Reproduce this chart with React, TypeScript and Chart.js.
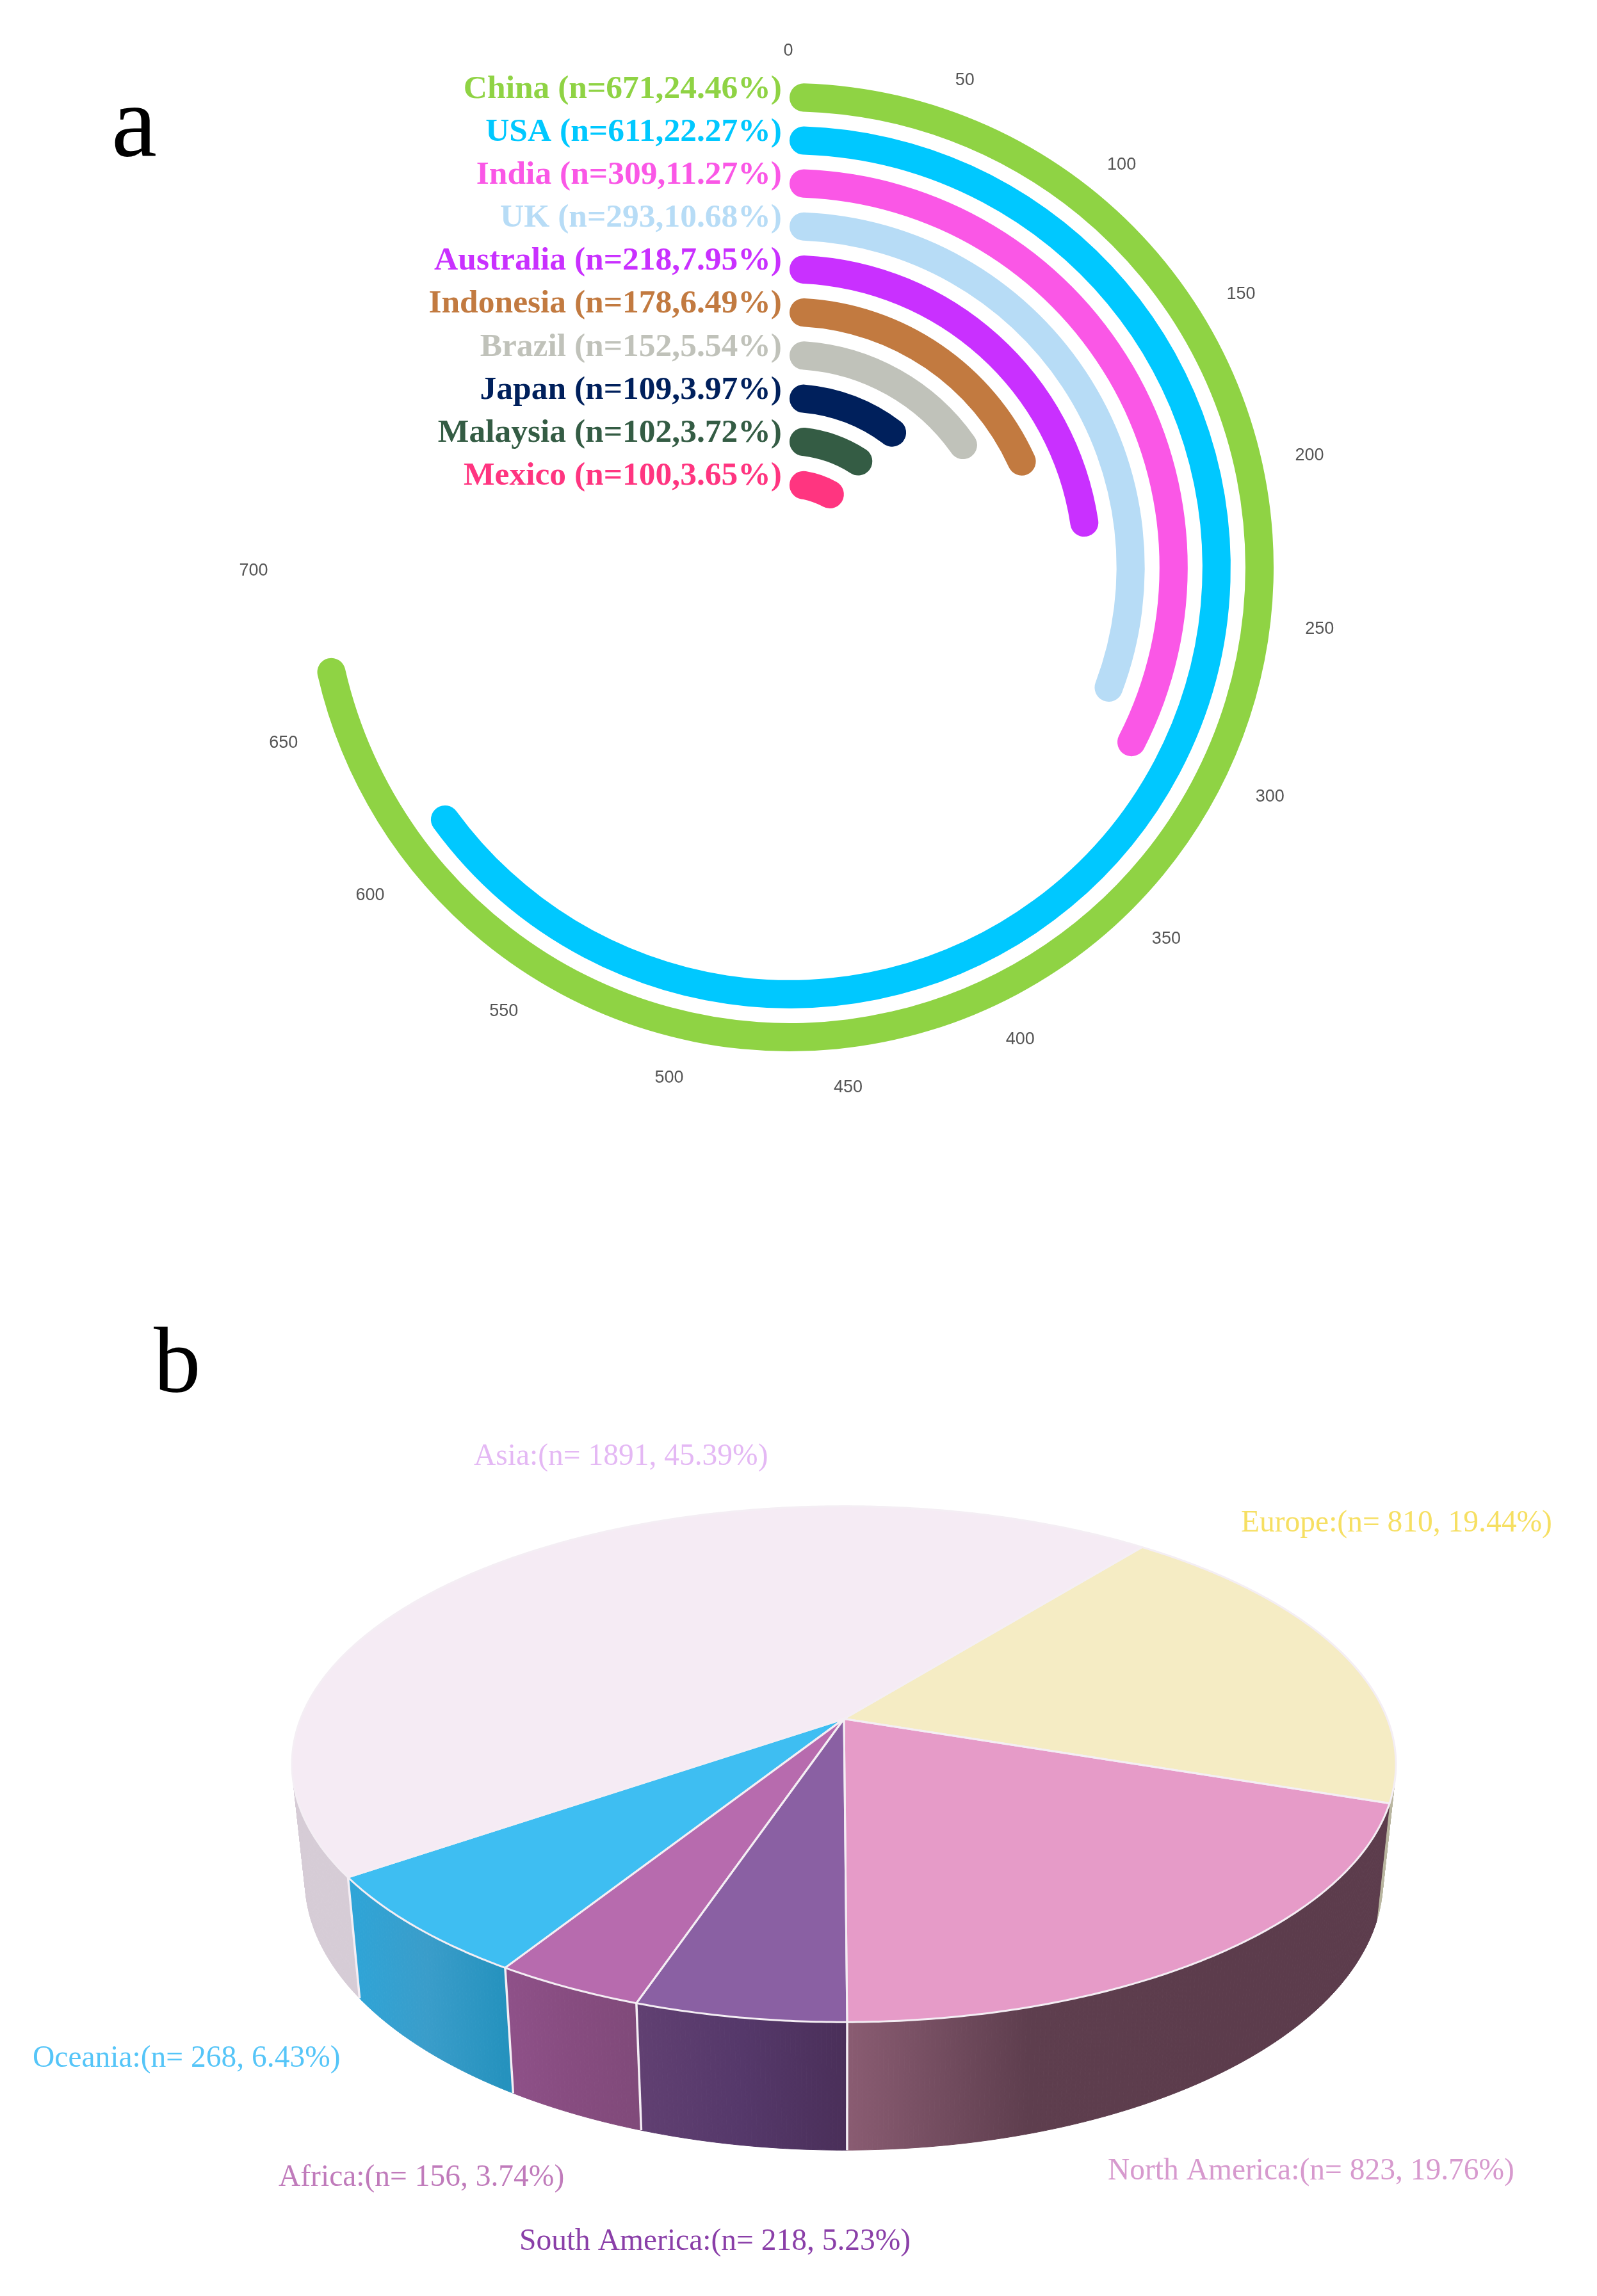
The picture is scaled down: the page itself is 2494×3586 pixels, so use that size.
import { useEffect, useRef } from 'react';
import { Chart, registerables } from 'chart.js';

Chart.register(...registerables);

// panel a: countries
const countries = ['China', 'USA', 'India', 'UK', 'Australia', 'Indonesia', 'Brazil', 'Japan', 'Malaysia', 'Mexico'];
const countryCounts = [671, 611, 309, 293, 218, 178, 152, 109, 102, 100];
const countryPercents = ['24.46', '22.27', '11.27', '10.68', '7.95', '6.49', '5.54', '3.97', '3.72', '3.65'];
const countryColors = ['#8fd344', '#00c8ff', '#fa57e6', '#b7dcf6', '#c930ff', '#c27a40', '#c0c2ba', '#00205c', '#345c44', '#ff3580'];
const angleTicks = [0, 50, 100, 150, 200, 250, 300, 350, 400, 450, 500, 550, 600, 650, 700];
const angleMax = 933.3; // 700 sits at three quarters of the circle

// panel b: continents
const continents = ['Asia', 'Europe', 'North America', 'South America', 'Africa', 'Oceania'];
const continentCounts = [1891, 810, 823, 218, 156, 268];
const continentPercents = ['45.39', '19.44', '19.76', '5.23', '3.74', '6.43'];
const topColors = ['#f5ebf4', '#f5ecc4', '#e69bc8', '#8a60a3', '#b76bae', '#3ebef2'];
const wallColors = [
  ['#d6ccd6', '#d6ccd6'],
  ['#b9b6a0', '#b9b6a0'],
  ['#8a5c72', '#5e3e4e', '#5c3c4c', '#5c3c4c'],
  ['#614072', '#55386a', '#4a2f59'],
  ['#8f5189', '#874c80', '#804a7a'],
  ['#2ea5d8', '#3a9dca', '#2592be'],
];
const labelColors = ['#e4b8f4', '#f6df62', '#d79ace', '#8a3fa8', '#c07bbb', '#55c5f8'];
const labelPlaces = [
  [740, 2288], [1938, 2392], [1730, 3404], [811, 3514], [435, 3414], [51, 3228],
];

const WIDTH = 2494;
const RING_H = 1836;
const PIE_H = 3586 - RING_H;

const ringThickness = 44;
const ringGap = 23;

const ringText = {
  id: 'ringText',
  afterDatasetsDraw(chart: any) {
    const ctx = chart.ctx;
    ctx.save();
    const first = chart.getDatasetMeta(0).data[0];
    const cx = first.x;
    const cy = first.y;
    // country labels line up with the start of each ring
    ctx.font = 'bold 51.5px "Liberation Serif"';
    ctx.textAlign = 'right';
    ctx.textBaseline = 'alphabetic';
    countries.forEach((name, i) => {
      const arc = chart.getDatasetMeta(i * 2).data[0];
      const mid = (arc.innerRadius + arc.outerRadius) / 2;
      ctx.fillStyle = countryColors[i];
      ctx.fillText(`${name} (n=${countryCounts[i]},${countryPercents[i]}%)`, cx - 12, cy - mid + 1);
    });
    // value ticks around the circle
    ctx.font = '27px "Liberation Sans"';
    ctx.textAlign = 'center';
    ctx.textBaseline = 'middle';
    ctx.fillStyle = '#555555';
    angleTicks.forEach((t) => {
      const a = (t / angleMax) * Math.PI * 2;
      ctx.fillText(String(t), cx + 835 * Math.sin(a) - 2, cy + 6 - 812 * Math.cos(a));
    });
    ctx.font = '160px "Liberation Serif"';
    ctx.textAlign = 'left';
    ctx.textBaseline = 'alphabetic';
    ctx.fillStyle = '#000000';
    ctx.fillText('a', 174, 243);
    ctx.restore();
  },
};

function RingChart() {
  const chartRef = useRef<HTMLCanvasElement>(null);

  useEffect(() => {
    if (!chartRef.current) return;
    const datasets: any[] = [];
    countries.forEach((name, i) => {
      datasets.push({
        label: name,
        data: [countryCounts[i], angleMax - countryCounts[i]],
        backgroundColor: [countryColors[i], 'rgba(0,0,0,0)'],
        borderWidth: 0,
        borderRadius: [ringThickness / 2, 0],
        weight: ringThickness,
      });
      // empty ring, only there to keep the gap between two bars
      if (i < countries.length - 1) {
        datasets.push({ label: '', data: [], weight: ringGap, borderWidth: 0 });
      }
    });

    const chart = new Chart(chartRef.current, {
      type: 'doughnut',
      data: { labels: ['value', 'rest'], datasets },
      options: {
        responsive: false,
        animation: false,
        devicePixelRatio: 1,
        cutout: '14.3%',
        layout: { padding: { left: 477, right: 505, top: 130, bottom: RING_H - 1642 } },
        plugins: { legend: { display: false }, tooltip: { enabled: false } },
      },
      plugins: [ringText],
    } as any);

    return () => {
      chart.destroy();
    };
  }, []);

  return <canvas ref={chartRef} width={WIDTH} height={RING_H} style={{ position: 'absolute', left: 0, top: 0, filter: 'blur(0.7px)' }} />;
}

// perspective of the tilted disc
const flatten = 0.46;
const persp = 0.176;

const pie3d = {
  id: 'pie3d',
  beforeDatasetsDraw(chart: any) {
    const ctx = chart.ctx;
    const arcs = chart.getDatasetMeta(0).data;
    const cx = arcs[0].x;
    const cy = arcs[0].y;
    const r = arcs[0].outerRadius;

    const rim = (a: number) => {
      const w = 1 - persp * Math.sin(a);
      return [cx + (r * Math.cos(a)) / w, cy + (r * flatten * Math.sin(a)) / w];
    };
    const base = (a: number) => {
      const [x, y] = rim(a);
      // wall gets a bit taller towards the viewer, 974 is the canvas y of the right edge
      return [x - (x - cx) * 0.0235, y + 183 + 0.0489 * (y - 974)];
    };
    const sweep = (arc: any) => {
      const out: number[] = [];
      const n = Math.ceil((arc.endAngle - arc.startAngle) / 0.008);
      for (let k = 0; k <= n; k++) out.push(arc.startAngle + ((arc.endAngle - arc.startAngle) * k) / n);
      return out;
    };

    ctx.save();
    ctx.lineJoin = 'round';

    // walls first, the top face covers whatever is behind it
    // one quad at a time, a single path folds over itself at the silhouette and leaves a hole
    arcs.forEach((arc: any, i: number) => {
      const angles = sweep(arc);
      const xs = angles.map((a) => rim(a)[0]);
      const grad = ctx.createLinearGradient(Math.min(...xs), 0, Math.max(...xs), 0);
      wallColors[i].forEach((c, k) => grad.addColorStop(k / (wallColors[i].length - 1), c));
      ctx.fillStyle = grad;
      ctx.strokeStyle = grad;
      ctx.lineWidth = 1;
      for (let k = 0; k < angles.length - 1; k++) {
        const a0 = rim(angles[k]);
        const a1 = rim(angles[k + 1]);
        const b0 = base(angles[k]);
        const b1 = base(angles[k + 1]);
        ctx.beginPath();
        ctx.moveTo(a0[0], a0[1]);
        ctx.lineTo(a1[0], a1[1]);
        ctx.lineTo(b1[0], b1[1]);
        ctx.lineTo(b0[0], b0[1]);
        ctx.closePath();
        ctx.fill();
        ctx.stroke();
      }
    });

    // seams on the front of the wall
    ctx.strokeStyle = '#f4eef4';
    ctx.lineWidth = 3.5;
    arcs.forEach((arc: any) => {
      if (Math.sin(arc.startAngle) < 0.5) return;
      const a = rim(arc.startAngle);
      const b = base(arc.startAngle);
      ctx.beginPath();
      ctx.moveTo(a[0], a[1]);
      ctx.lineTo(b[0], b[1]);
      ctx.stroke();
    });

    // top face
    arcs.forEach((arc: any, i: number) => {
      ctx.beginPath();
      ctx.moveTo(cx, cy);
      sweep(arc).map(rim).forEach((p) => ctx.lineTo(p[0], p[1]));
      ctx.closePath();
      ctx.fillStyle = topColors[i];
      ctx.fill();
    });
    ctx.strokeStyle = '#f4eef4';
    ctx.lineWidth = 3;
    arcs.forEach((arc: any) => {
      ctx.beginPath();
      ctx.moveTo(cx, cy);
      sweep(arc).map(rim).forEach((p) => ctx.lineTo(p[0], p[1]));
      ctx.closePath();
      ctx.stroke();
    });

    // labels
    ctx.font = '47.5px "Liberation Serif"';
    ctx.textAlign = 'left';
    ctx.textBaseline = 'alphabetic';
    continents.forEach((name, i) => {
      ctx.fillStyle = labelColors[i];
      ctx.fillText(`${name}:(n= ${continentCounts[i]}, ${continentPercents[i]}%)`, labelPlaces[i][0], labelPlaces[i][1] - RING_H);
    });
    ctx.font = '147px "Liberation Serif"';
    ctx.fillStyle = '#000000';
    ctx.fillText('b', 240, 2174 - RING_H);
    ctx.restore();
    return false; // the arcs are already painted
  },
};

function PieChart() {
  const chartRef = useRef<HTMLCanvasElement>(null);

  useEffect(() => {
    if (!chartRef.current) return;
    const chart = new Chart(chartRef.current, {
      type: 'pie',
      data: {
        labels: continents,
        datasets: [{ data: continentCounts, backgroundColor: topColors, borderWidth: 0 }],
      },
      options: {
        responsive: false,
        animation: false,
        devicePixelRatio: 1,
        rotation: 235.2,
        layout: { padding: { left: 469.5, right: WIDTH - 1318 - 848.5, top: 0, bottom: PIE_H - 1697 } },
        plugins: { legend: { display: false }, tooltip: { enabled: false } },
      },
      plugins: [pie3d],
    } as any);

    return () => {
      chart.destroy();
    };
  }, []);

  return <canvas ref={chartRef} width={WIDTH} height={PIE_H} style={{ position: 'absolute', left: 0, top: RING_H, filter: 'blur(0.7px)' }} />;
}

export default function App() {
  return (
    <div style={{ position: 'absolute', left: 0, top: 0, width: WIDTH, height: 3586, background: '#ffffff', overflow: 'hidden' }}>
      <RingChart />
      <PieChart />
    </div>
  );
}
